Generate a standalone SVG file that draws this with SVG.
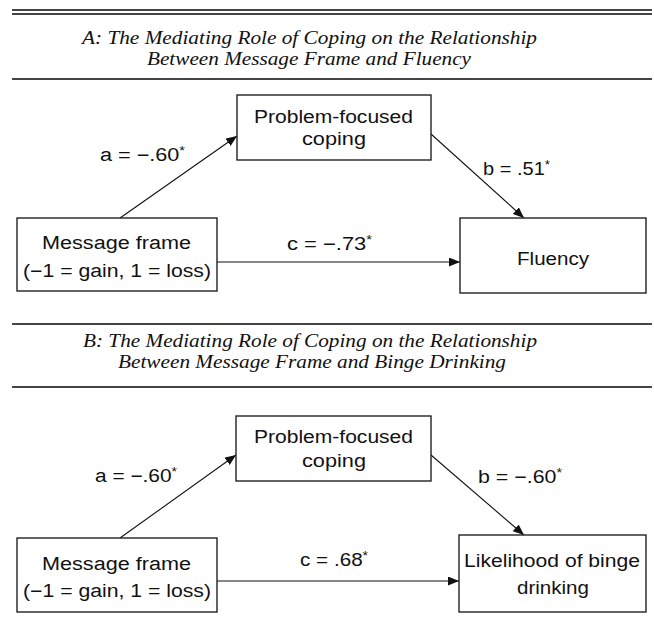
<svg xmlns="http://www.w3.org/2000/svg" width="654" height="641" viewBox="0 0 654 641">
<style>
.rule{stroke:#444;stroke-width:1.8;fill:none}
.box{fill:#fff;stroke:#222;stroke-width:1.4}
.lbl{font-family:"Liberation Sans",Arial,sans-serif;font-size:18px;fill:#111}
.ttl{font-family:"Liberation Serif","Times New Roman",serif;font-style:italic;font-size:19px;fill:#111}
.edge{stroke:#111;stroke-width:1.1;fill:none;marker-end:url(#ah)}
.sup{font-size:12px}
</style>
<defs>
<marker id="ah" markerUnits="userSpaceOnUse" markerWidth="12" markerHeight="10" refX="11" refY="4.5" orient="auto">
<path d="M0,0 L11,4.5 L0,9 z" fill="#111"/>
</marker>
</defs>
<g id="rules">
<line class="rule" x1="12" y1="10" x2="652" y2="10"/>
<line class="rule" x1="12" y1="14" x2="652" y2="14"/>
<line class="rule" x1="12" y1="79" x2="652" y2="79"/>
<line class="rule" x1="12" y1="324" x2="652" y2="324"/>
<line class="rule" x1="12" y1="387" x2="652" y2="387"/>
</g>
<g id="titles">
<text class="ttl" x="82" y="44" textLength="455" lengthAdjust="spacingAndGlyphs">A: The Mediating Role of Coping on the Relationship</text>
<text class="ttl" x="147" y="65" textLength="324" lengthAdjust="spacingAndGlyphs">Between Message Frame and Fluency</text>
<text class="ttl" x="83" y="347" textLength="454" lengthAdjust="spacingAndGlyphs">B: The Mediating Role of Coping on the Relationship</text>
<text class="ttl" x="118" y="368" textLength="388" lengthAdjust="spacingAndGlyphs">Between Message Frame and Binge Drinking</text>
</g>
<g id="connectors">
<line class="edge" x1="120" y1="218" x2="237" y2="136"/>
<line class="edge" x1="431" y1="134" x2="524" y2="218"/>
<line class="edge" x1="217" y1="262" x2="460" y2="262"/>
<line class="edge" x1="120" y1="538" x2="236" y2="455"/>
<line class="edge" x1="431" y1="455" x2="524" y2="535"/>
<line class="edge" x1="217" y1="581" x2="459" y2="581"/>
<text class="lbl" x="100" y="161" textLength="85" lengthAdjust="spacingAndGlyphs">a = −.60<tspan class="sup" dy="-6">*</tspan></text>
<text class="lbl" x="483" y="175" textLength="67" lengthAdjust="spacingAndGlyphs">b = .51<tspan class="sup" dy="-6">*</tspan></text>
<text class="lbl" x="287" y="250" textLength="85" lengthAdjust="spacingAndGlyphs">c = −.73<tspan class="sup" dy="-6">*</tspan></text>
<text class="lbl" x="95" y="482" textLength="82" lengthAdjust="spacingAndGlyphs">a = −.60<tspan class="sup" dy="-6">*</tspan></text>
<text class="lbl" x="478" y="483" textLength="84" lengthAdjust="spacingAndGlyphs">b = −.60<tspan class="sup" dy="-6">*</tspan></text>
<text class="lbl" x="300" y="566" textLength="68" lengthAdjust="spacingAndGlyphs">c = .68<tspan class="sup" dy="-6">*</tspan></text>
</g>
<g id="A-coping">
<rect class="box" x="237" y="95" width="194" height="65"/>
<text class="lbl" x="254" y="123" textLength="159" lengthAdjust="spacingAndGlyphs">Problem-focused</text>
<text class="lbl" x="302" y="145" textLength="64" lengthAdjust="spacingAndGlyphs">coping</text>
</g>
<g id="A-frame">
<rect class="box" x="17" y="218" width="200" height="73"/>
<text class="lbl" x="42" y="249" textLength="149" lengthAdjust="spacingAndGlyphs">Message frame</text>
<text class="lbl" x="23" y="277" textLength="188" lengthAdjust="spacingAndGlyphs">(−1 = gain, 1 = loss)</text>
</g>
<g id="A-fluency">
<rect class="box" x="460" y="218" width="186" height="75"/>
<text class="lbl" x="517" y="265" textLength="72" lengthAdjust="spacingAndGlyphs">Fluency</text>
</g>
<g id="B-coping">
<rect class="box" x="236" y="416" width="195" height="65"/>
<text class="lbl" x="254" y="443" textLength="159" lengthAdjust="spacingAndGlyphs">Problem-focused</text>
<text class="lbl" x="302" y="467" textLength="64" lengthAdjust="spacingAndGlyphs">coping</text>
</g>
<g id="B-frame">
<rect class="box" x="17" y="538" width="200" height="74"/>
<text class="lbl" x="42" y="570" textLength="149" lengthAdjust="spacingAndGlyphs">Message frame</text>
<text class="lbl" x="23" y="597" textLength="188" lengthAdjust="spacingAndGlyphs">(−1 = gain, 1 = loss)</text>
</g>
<g id="B-binge">
<rect class="box" x="459" y="535" width="187" height="77"/>
<text class="lbl" x="464" y="567" textLength="176" lengthAdjust="spacingAndGlyphs">Likelihood of binge</text>
<text class="lbl" x="517" y="594" textLength="72" lengthAdjust="spacingAndGlyphs">drinking</text>
</g>
</svg>
